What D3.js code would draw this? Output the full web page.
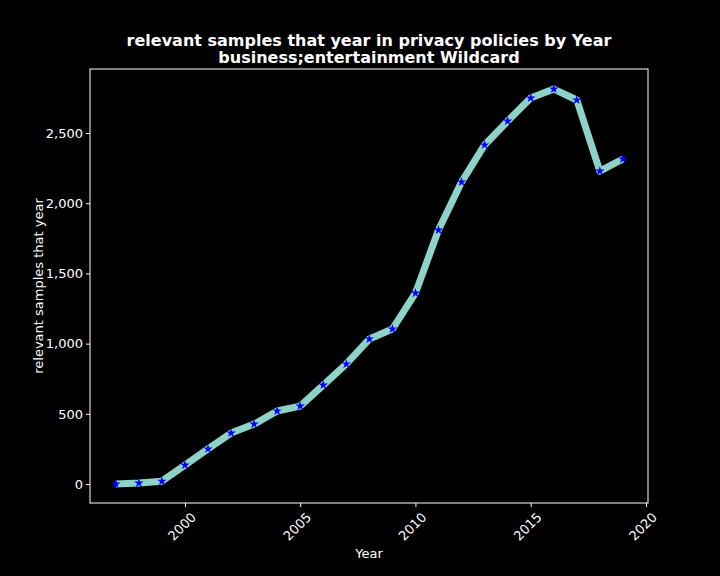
<!DOCTYPE html>
<html lang="en">
<head>
<meta charset="UTF-8" />
<script src="https://d3js.org/d3.v7.min.js"></script>
<style>
  body { margin: 0; background: #000; }
  text { font-family: "DejaVu Sans", sans-serif; fill: #fff; }
</style>
</head>
<body>
<svg width="720" height="576"></svg>
<script>
const years = [1997, 1998, 1999, 2000, 2001, 2002, 2003, 2004, 2005, 2006, 2007, 2008,
               2009, 2010, 2011, 2012, 2013, 2014, 2015, 2016, 2017, 2018, 2019];
const samples = [0, 7, 20, 135, 250, 363, 427, 520, 555, 705, 855, 1033,
                 1104, 1360, 1809, 2151, 2415, 2585, 2749, 2813, 2735, 2229, 2315];
const xTicks = [2000, 2005, 2010, 2015, 2020];
const yTicks = [0, 500, 1000, 1500, 2000, 2500];

const svg = d3.select("svg");
const plotL = 90, plotR = 648, plotT = 69, plotB = 503;

const x = d3.scaleLinear().domain([1995.88, 2020.09]).range([plotL, plotR]);
const y = d3.scaleLinear().domain([-135, 2956]).range([plotB, plotT]);

svg.append("rect").attr("width", 720).attr("height", 576).attr("fill", "#000");

const xAxis = svg.append("g").attr("transform", `translate(0,${plotB})`)
  .call(d3.axisBottom(x).tickValues(xTicks).tickFormat(d3.format("d")).tickSize(4));
xAxis.selectAll("text").attr("font-size", 13)
  .attr("transform", "rotate(-45)").attr("text-anchor", "end")
  .attr("dx", "-0.2em").attr("dy", "0.9em");

const yAxis = svg.append("g").attr("transform", `translate(${plotL},0)`)
  .call(d3.axisLeft(y).tickValues(yTicks).tickSize(4));
yAxis.selectAll("text").attr("font-size", 13);

svg.selectAll(".tick line").attr("stroke", "#fff");
svg.selectAll(".domain").remove();
svg.append("rect").attr("x", plotL).attr("y", plotT)
  .attr("width", plotR - plotL).attr("height", plotB - plotT)
  .attr("fill", "none").attr("stroke", "#fff").attr("stroke-width", 1);

svg.append("path").datum(years)
  .attr("fill", "none").attr("stroke", "#8dd3c7").attr("stroke-width", 7)
  .attr("stroke-linejoin", "round")
  .attr("d", d3.line().x(d => x(d)).y((d, i) => y(samples[i])));

svg.selectAll(".star").data(years).enter().append("path")
  .attr("transform", (d, i) => `translate(${x(d)},${y(samples[i])})`)
  .attr("d", d3.symbol(d3.symbolStar, 28))
  .attr("fill", "#0000ff");

svg.append("text").attr("x", 369).attr("y", 46).attr("text-anchor", "middle")
  .attr("font-size", 16).attr("font-weight", "bold")
  .text("relevant samples that year in privacy policies by Year");
svg.append("text").attr("x", 369).attr("y", 63).attr("text-anchor", "middle")
  .attr("font-size", 16).attr("font-weight", "bold")
  .text("business;entertainment Wildcard");

svg.append("text").attr("x", 369).attr("y", 558).attr("text-anchor", "middle")
  .attr("font-size", 13).text("Year");
svg.append("text").attr("transform", "translate(43,286) rotate(-90)")
  .attr("text-anchor", "middle").attr("font-size", 13)
  .text("relevant samples that year");
</script>
</body>
</html>
